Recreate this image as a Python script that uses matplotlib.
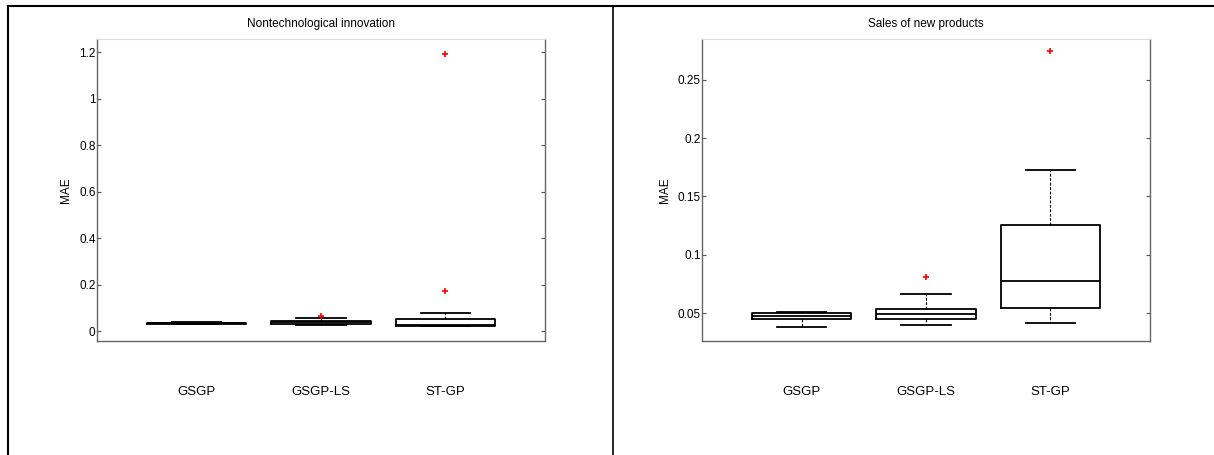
import matplotlib.pyplot as plt
from matplotlib.lines import Line2D
import matplotlib.transforms as mtransforms

plt.rcParams['font.family'] = ['Liberation Sans', 'DejaVu Sans']

groups = ['GSGP', 'GSGP-LS', 'ST-GP']

# MAE box statistics per method: lower whisker, Q1, median, Q3, upper whisker, outliers
nontech_whislo = [0.030, 0.024, 0.020]
nontech_q1 = [0.032, 0.031, 0.021]
nontech_med = [0.034, 0.038, 0.027]
nontech_q3 = [0.036, 0.045, 0.053]
nontech_whishi = [0.038, 0.056, 0.077]
nontech_fliers = [[], [0.064], [0.173, 1.193]]

sales_whislo = [0.0380, 0.0397, 0.0417]
sales_q1 = [0.0446, 0.0449, 0.0543]
sales_med = [0.0472, 0.0494, 0.0777]
sales_q3 = [0.0500, 0.0537, 0.1253]
sales_whishi = [0.0511, 0.0660, 0.1727]
sales_fliers = [[], [0.0806], [0.2745]]


def make_stats(lo, q1, med, q3, hi, fl):
    return [dict(whislo=a, q1=b, med=c, q3=d, whishi=e, fliers=f, label=g)
            for a, b, c, d, e, f, g in zip(lo, q1, med, q3, hi, fl, groups)]


fig = plt.figure(figsize=(12.14, 4.55), dpi=100)
W, H = 1214, 455

# outer table frame
fig.add_artist(Line2D([8 / W, 1], [1 - 6 / H, 1 - 6 / H], color='black', lw=1.5))
fig.add_artist(Line2D([8 / W, 8 / W], [0, 1 - 6 / H], color='black', lw=1.5))
fig.add_artist(Line2D([613 / W, 613 / W], [0, 1 - 6 / H], color='black', lw=1.2))

panels = [
    (97, 'Nontechnological innovation',
     make_stats(nontech_whislo, nontech_q1, nontech_med, nontech_q3, nontech_whishi, nontech_fliers),
     (-0.043, 1.256), [0, 0.2, 0.4, 0.6, 0.8, 1.0, 1.2], ['0', '0.2', '0.4', '0.6', '0.8', '1', '1.2']),
    (702, 'Sales of new products',
     make_stats(sales_whislo, sales_q1, sales_med, sales_q3, sales_whishi, sales_fliers),
     (0.026, 0.285), [0.05, 0.1, 0.15, 0.2, 0.25], ['0.05', '0.1', '0.15', '0.2', '0.25']),
]

for left, title, stats, ylim, yticks, yticklabels in panels:
    ax = fig.add_axes([left / W, 1 - 341 / H, 448 / W, 302 / H])
    ax.bxp(stats, positions=[1, 2, 3], widths=0.8, showfliers=True,
           boxprops=dict(color='black', lw=1.3),
           medianprops=dict(color='black', lw=1.3),
           whiskerprops=dict(color='black', lw=0.8, linestyle=(0, (2.5, 1.5))),
           capprops=dict(color='black', lw=1.3),
           capwidths=0.4,
           flierprops=dict(marker='+', markeredgecolor='red', markersize=5, mew=1.2))
    ax.set_xlim(0.2, 3.8)
    ax.set_ylim(*ylim)
    ax.set_yticks(yticks)
    ax.set_yticklabels(yticklabels)
    ax.set_xticks([])
    ax.tick_params(axis='y', direction='in', length=3, width=0.8, color='#555555',
                   labelsize=8.5, right=True, pad=1)
    for side in ['left', 'right', 'bottom']:
        ax.spines[side].set_color('#666666')
        ax.spines[side].set_linewidth(1.0)
    ax.spines['top'].set_color('#dddddd')
    ax.set_ylabel('MAE', fontsize=8.5, labelpad=5)
    ax.set_title(title, fontsize=8.5, pad=9)
    trans = mtransforms.blended_transform_factory(ax.transData, ax.transAxes)
    for x, name in zip([1, 2, 3], groups):
        ax.text(x, -0.169, name, transform=trans, ha='center', va='center', fontsize=9.5)

fig.savefig('out.png', dpi=100)
